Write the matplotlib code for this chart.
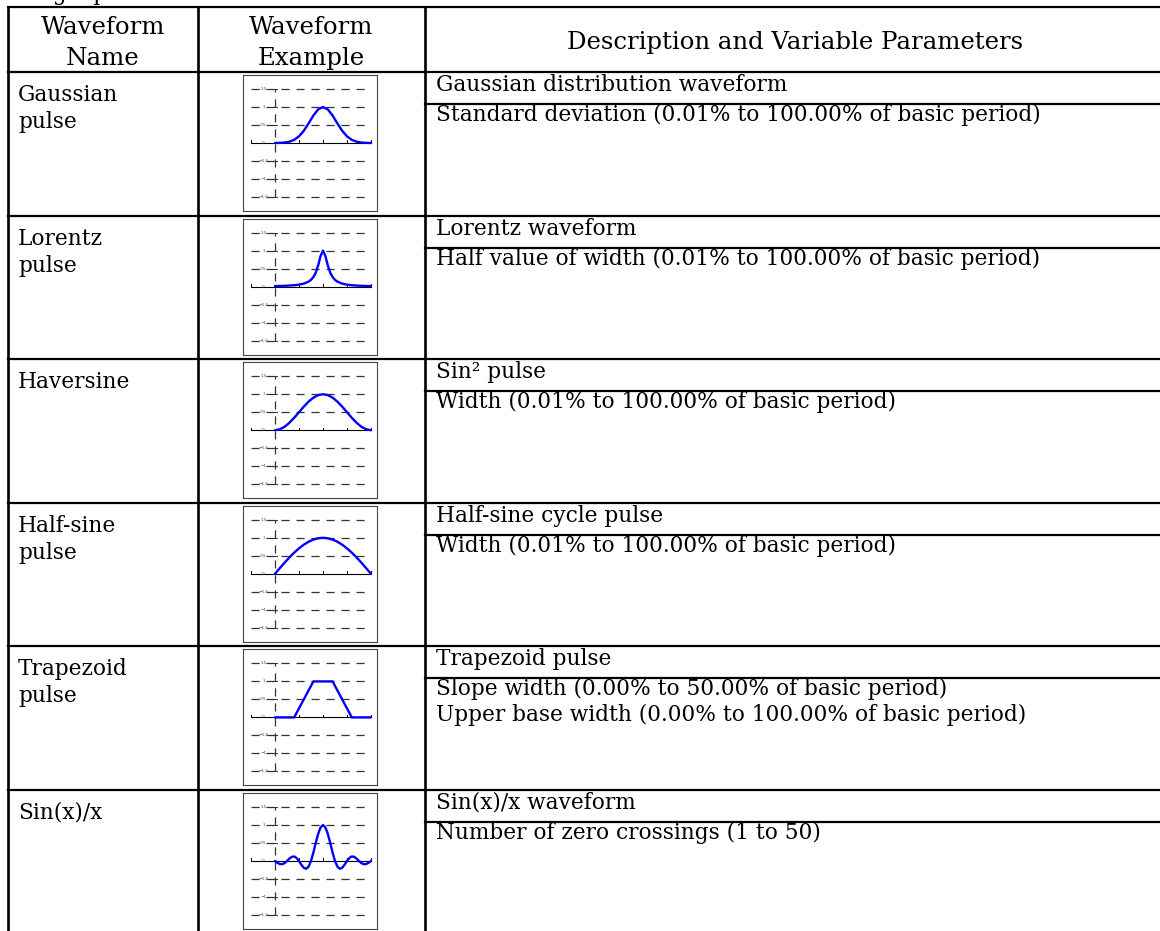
import matplotlib
matplotlib.use("Agg")
import matplotlib.pyplot as plt

plt.rcParams["font.family"] = ["DejaVu Serif", "DejaVu Sans"]

W, H = 1160, 931

header_name = ["Waveform", "Name"]
header_example = ["Waveform", "Example"]
header_desc = "Description and Variable Parameters"

names = [
    ["Gaussian", "pulse"],
    ["Lorentz", "pulse"],
    ["Haversine"],
    ["Half-sine", "pulse"],
    ["Trapezoid", "pulse"],
    ["Sin(x)/x"],
]
titles = [
    "Gaussian distribution waveform",
    "Lorentz waveform",
    "Sin\u00b2 pulse",
    "Half-sine cycle pulse",
    "Trapezoid pulse",
    "Sin(x)/x waveform",
]
params = [
    ["Standard deviation (0.01% to 100.00% of basic period)"],
    ["Half value of width (0.01% to 100.00% of basic period)"],
    ["Width (0.01% to 100.00% of basic period)"],
    ["Width (0.01% to 100.00% of basic period)"],
    ["Slope width (0.00% to 50.00% of basic period)",
     "Upper base width (0.00% to 100.00% of basic period)"],
    ["Number of zero crossings (1 to 50)"],
]

# sample points
x_coarse = [0.0, 0.05, 0.1, 0.15, 0.2, 0.25, 0.3, 0.35, 0.4, 0.45, 0.5,
            0.55, 0.6, 0.65, 0.7, 0.75, 0.8, 0.85, 0.9, 0.95, 1.0]
gauss_y = [0.001, 0.004, 0.013, 0.036, 0.088, 0.185, 0.339, 0.544, 0.763, 0.935, 1.0,
           0.935, 0.763, 0.544, 0.339, 0.185, 0.088, 0.036, 0.013, 0.004, 0.001]

lorentz_x = [0.0, 0.05, 0.1, 0.15, 0.2, 0.25, 0.3, 0.35, 0.375, 0.4, 0.425, 0.45, 0.475, 0.5,
             0.525, 0.55, 0.575, 0.6, 0.625, 0.65, 0.7, 0.75, 0.8, 0.85, 0.9, 0.95, 1.0]
lorentz_y = [0.014, 0.017, 0.022, 0.029, 0.038, 0.054, 0.083, 0.138, 0.187, 0.265, 0.39, 0.59, 0.852, 1.0,
             0.852, 0.59, 0.39, 0.265, 0.187, 0.138, 0.083, 0.054, 0.038, 0.029, 0.022, 0.017, 0.014]

haversine_y = [0.0, 0.025, 0.095, 0.206, 0.345, 0.5, 0.655, 0.794, 0.905, 0.976, 1.0,
               0.976, 0.905, 0.794, 0.655, 0.5, 0.345, 0.206, 0.095, 0.025, 0.0]

halfsine_y = [0.0, 0.156, 0.309, 0.454, 0.588, 0.707, 0.809, 0.891, 0.951, 0.988, 1.0,
              0.988, 0.951, 0.891, 0.809, 0.707, 0.588, 0.454, 0.309, 0.156, 0.0]

trap_x = [0.0, 0.2, 0.4, 0.6, 0.8, 1.0]
trap_y = [0.0, 0.0, 1.0, 1.0, 0.0, 0.0]

x_fine = [0.0, 0.025, 0.05, 0.075, 0.1, 0.125, 0.15, 0.175, 0.2, 0.225, 0.25,
          0.275, 0.3, 0.325, 0.35, 0.375, 0.4, 0.425, 0.45, 0.475, 0.5,
          0.525, 0.55, 0.575, 0.6, 0.625, 0.65, 0.675, 0.7, 0.725, 0.75,
          0.775, 0.8, 0.825, 0.85, 0.875, 0.9, 0.925, 0.95, 0.975, 1.0]
sinc_y = [0.0, -0.049, -0.084, -0.089, -0.058, 0.0, 0.067, 0.116, 0.126, 0.085, 0.0,
          -0.104, -0.189, -0.216, -0.156, 0.0, 0.234, 0.505, 0.757, 0.935, 1.0,
          0.935, 0.757, 0.505, 0.234, 0.0, -0.156, -0.216, -0.189, -0.104, 0.0,
          0.085, 0.126, 0.116, 0.067, 0.0, -0.058, -0.089, -0.084, -0.049, 0.0]

waves = [
    (x_coarse, gauss_y),
    (lorentz_x, lorentz_y),
    (x_coarse, haversine_y),
    (x_coarse, halfsine_y),
    (trap_x, trap_y),
    (x_fine, sinc_y),
]

levels = [1.5, 1.0, 0.5, 0.0, -0.5, -1.0, -1.5]
level_labels = ["1.5", "1", "0.5", "0", "\u22120.5", "\u22121", "\u22121.5"]
xticks_small = [-0.25, 0.25, 0.5, 0.75, 1.0]

# layout in pixels
x_left, x_c1, x_c2, x_right = 8, 198, 425, W + 10
y_top, y_head = 7, 72
row_h = 143.6
fs = 15.6
fs_head = 17.6
lw_tab = 1.6


def draw_example(ax, xs, ys):
    ax.set_xlim(-0.333, 1.0625)
    ax.set_ylim(-1.89, 1.89)
    dash = (0, (6.5, 5.5))
    for lev, lab in zip(levels, level_labels):
        if lev != 0:
            ax.plot([-0.25, 0.97], [lev, lev], color="#333333", lw=0.9, ls=dash)
        ax.plot([-0.025, 0.025], [lev, lev], color="#333333", lw=0.7)
        ax.text(-0.12, lev, lab, fontsize=3, ha="center", va="center",
                color="#444444", family="DejaVu Sans")
    ax.plot([0, 0], [-1.5, 1.5], color="#333333", lw=0.9, ls=dash)
    ax.plot([-0.25, 1.0], [0, 0], color="black", lw=0.8)
    for t in xticks_small:
        ax.plot([t, t], [0, 0.07], color="black", lw=0.7)
    ax.plot(xs, ys, color="#0000ff", lw=1.7, solid_capstyle="round")
    ax.set_xticks([])
    ax.set_yticks([])
    for sp in ax.spines.values():
        sp.set_color("#444444")
        sp.set_linewidth(0.8)


fig = plt.figure(figsize=(W / 100, H / 100), dpi=100)
tab = fig.add_axes([0, 0, 1, 1])
tab.set_xlim(0, W)
tab.set_ylim(H, 0)
tab.axis("off")

# caption above the table, cut off by the page edge
tab.text(17, 0, "Single pulse", fontsize=fs, ha="left", va="baseline")

# header
tab.plot([x_left, x_right], [y_top, y_top], color="black", lw=lw_tab)
tab.plot([x_left, x_right], [y_head, y_head], color="black", lw=lw_tab)
for j in range(2):
    tab.text((x_left + x_c1) / 2, 34 + j * 31, header_name[j], fontsize=fs_head,
             ha="center", va="baseline")
    tab.text((x_c1 + x_c2) / 2, 34 + j * 31, header_example[j], fontsize=fs_head,
             ha="center", va="baseline")
tab.text((x_c2 + 1165) / 2, 49, header_desc, fontsize=fs_head, ha="center", va="baseline")

for xv in [x_left, x_c1, x_c2]:
    tab.plot([xv, xv], [y_top, H + 10], color="black", lw=lw_tab * 1.2)

for i in range(len(names)):
    top = y_head + i * row_h
    if i > 0:
        tab.plot([x_left, x_right], [top, top], color="black", lw=lw_tab)
    tab.plot([x_c2, x_right], [top + 32, top + 32], color="black", lw=lw_tab)

    for j, line in enumerate(names[i]):
        tab.text(18, top + 29 + j * 27, line, fontsize=fs, ha="left", va="baseline")
    tab.text(436, top + 19, titles[i], fontsize=fs, ha="left", va="baseline")
    for j, line in enumerate(params[i]):
        tab.text(436, top + 49 + j * 26, line, fontsize=fs, ha="left", va="baseline")

    ax = fig.add_axes([243 / W, 1 - (top + 3 + 136) / H, 134 / W, 136 / H])
    draw_example(ax, *waves[i])

fig.savefig("out.png", dpi=100)
